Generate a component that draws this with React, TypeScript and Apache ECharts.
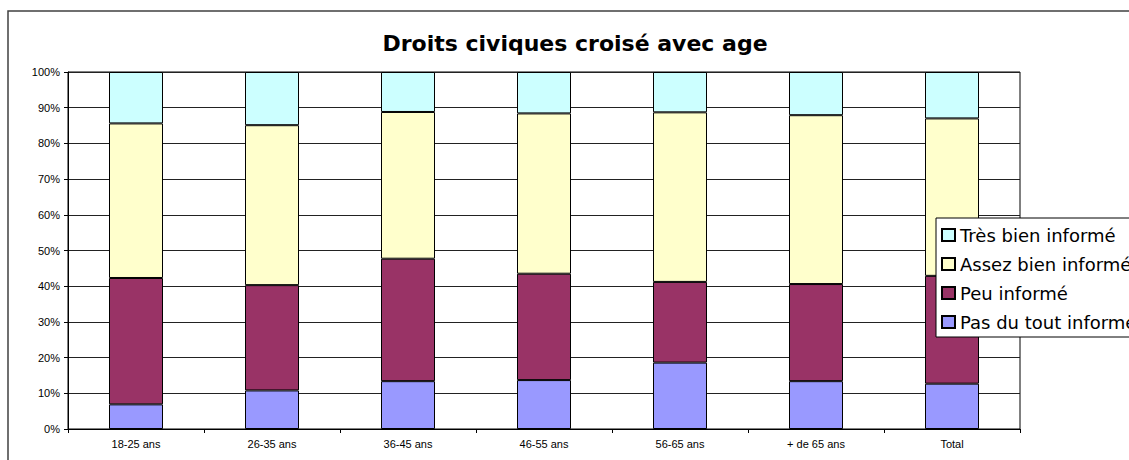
import React, { useEffect, useRef } from "react";
import * as echarts from "echarts";

const categories = ["18-25 ans", "26-35 ans", "36-45 ans", "46-55 ans", "56-65 ans", "+ de 65 ans", "Total"];
const pasDuTout = [6.9, 10.8, 13.4, 13.7, 18.6, 13.4, 12.7];
const peu = [35.4, 29.5, 34.3, 29.8, 22.6, 27.2, 30.2];
const assezBien = [43.3, 44.8, 41.1, 44.9, 47.5, 47.3, 44.1];
const tresBien = [14.4, 14.9, 11.2, 11.6, 11.3, 12.1, 13.0];
const seriesNames = ["Très bien informé", "Assez bien informé", "Peu informé", "Pas du tout informé"];
const titleText = "Droits civiques croisé avec age";

export default function App() {
  const ref = useRef<HTMLDivElement>(null);
  useEffect(() => {
    if (!ref.current) return;
    const chart = echarts.init(ref.current, undefined, { renderer: "svg" });
    const mk = (name: string, data: number[], color: string) => ({
      name,
      type: "bar",
      stack: "total",
      data,
      barWidth: 54,
      itemStyle: { color, borderColor: "#000", borderWidth: 1 },
      emphasis: { disabled: true },
    });
    chart.setOption({
      animation: false,
      backgroundColor: "#fff",
      graphic: [
        {
          type: "rect",
          shape: { x: 8, y: 11, width: 1300, height: 600 },
          style: { fill: "none", stroke: "#404040", lineWidth: 1.5 },
          silent: true,
          z: -10,
        },
        {
          type: "text",
          x: 575,
          y: 43,
          style: {
            text: titleText,
            font: "bold 22px 'DejaVu Sans'",
            fill: "#000",
            textAlign: "center",
            textVerticalAlign: "middle",
          },
          silent: true,
        },
      ],
      legend: {
        orient: "vertical",
        left: 936,
        top: 218,
        data: seriesNames,
        backgroundColor: "#fff",
        borderColor: "#000",
        borderWidth: 1,
        borderRadius: 0,
        padding: [8, 12, 6, 5],
        itemWidth: 13,
        itemHeight: 12,
        itemGap: 11,
        icon: "rect",
        textStyle: { fontFamily: "DejaVu Sans", fontSize: 18, color: "#000" },
        selectedMode: false,
      },
      grid: {
        left: 68,
        top: 72,
        width: 952,
        height: 357,
        show: true,
        borderColor: "#000",
        borderWidth: 1,
        backgroundColor: "#fff",
      },
      xAxis: {
        type: "category",
        data: categories,
        axisLine: { lineStyle: { color: "#000", width: 1 } },
        axisTick: { show: true, length: 4, lineStyle: { color: "#000" } },
        axisLabel: { color: "#000", fontFamily: "Liberation Sans", fontSize: 11, margin: 9 },
      },
      yAxis: {
        type: "value",
        min: 0,
        max: 100,
        interval: 10,
        axisLine: { show: true, lineStyle: { color: "#000", width: 1 } },
        axisTick: { show: true, length: 4, lineStyle: { color: "#000" } },
        axisLabel: {
          color: "#000",
          fontFamily: "Liberation Sans",
          fontSize: 11,
          margin: 8,
          formatter: "{value}%",
        },
        splitLine: { show: true, lineStyle: { color: "#222", width: 1 } },
      },
      series: [
        mk(seriesNames[3], pasDuTout, "#9999FF"),
        mk(seriesNames[2], peu, "#993366"),
        mk(seriesNames[1], assezBien, "#FFFFCC"),
        mk(seriesNames[0], tresBien, "#CCFFFF"),
      ],
    });
    return () => chart.dispose();
  }, []);
  return (
    <div
      ref={ref}
      style={{ position: "absolute", left: 0, top: 0, width: 1129, height: 460, overflow: "hidden" }}
    />
  );
}
